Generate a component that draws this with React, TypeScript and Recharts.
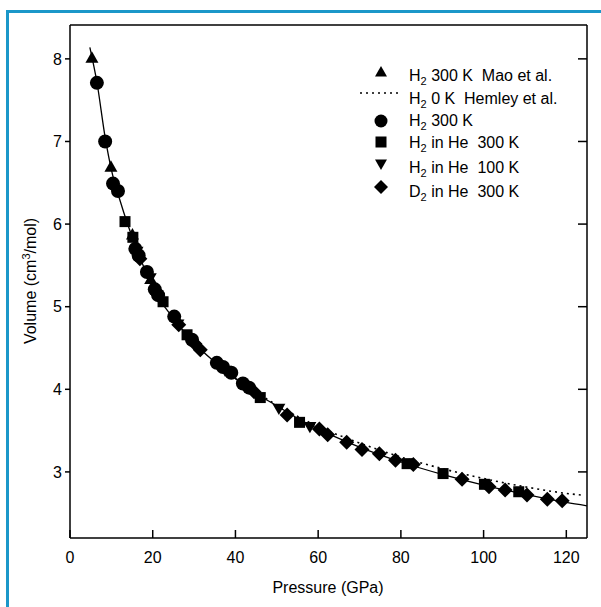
import { ComposedChart, Label, Legend, Line, Scatter, XAxis, YAxis } from "recharts";

const FONT = "'Liberation Sans', Arial, Helvetica, sans-serif";

const xTicks = [0, 20, 40, 60, 80, 100, 120];
const yTicks = [3, 4, 5, 6, 7, 8];

// [pressure GPa, volume cm3/mol]
const fitCurve = [
  [4.8, 8.14], [6.5, 7.72], [8.5, 7.05], [10, 6.66], [12, 6.3], [14, 5.99],
  [16, 5.72], [18, 5.46], [20, 5.23], [25, 4.86], [30, 4.56], [35, 4.33],
  [40, 4.13], [45, 3.95], [50, 3.8], [55, 3.65], [60, 3.52], [70, 3.3],
  [80, 3.12], [90, 2.97], [100, 2.84], [110, 2.73], [120, 2.63], [125, 2.59],
];
const hemley0K = [
  [40, 4.13], [50, 3.81], [60, 3.55], [70, 3.35], [80, 3.18], [90, 3.04],
  [100, 2.92], [110, 2.82], [120, 2.74], [123.5, 2.72],
];
const maoH2 = [[5.3, 8.0], [9.9, 6.68], [15.1, 5.86], [19.5, 5.32]];
const h2Room = [
  [6.5, 7.71], [8.5, 7.0], [10.4, 6.49], [11.6, 6.4], [15.8, 5.7], [16.6, 5.62],
  [18.6, 5.42], [20.5, 5.21], [21.3, 5.14], [25.2, 4.88], [29.5, 4.6], [35.5, 4.32],
  [37, 4.27], [39, 4.2], [41.8, 4.07], [43.3, 4.02],
];
const h2He300 = [
  [13.3, 6.03], [15.2, 5.84], [22.5, 5.06], [28.3, 4.66], [46, 3.9], [55.5, 3.6],
  [81.5, 3.1], [90.2, 2.98], [100.2, 2.85], [108.5, 2.76],
];
const h2He100 = [[16.2, 5.68], [19.4, 5.36], [26.1, 4.8], [37.5, 4.24], [50.5, 3.78], [58, 3.56]];
const d2He300 = [
  [16.9, 5.58], [26.3, 4.78], [30.2, 4.55], [31.5, 4.48], [42.5, 4.05], [44.5, 3.97],
  [52.5, 3.69], [60.3, 3.52], [62.3, 3.45], [66.9, 3.36], [70.6, 3.27], [74.8, 3.22],
  [78.7, 3.14], [83, 3.09], [94.8, 2.91], [101.3, 2.82], [105.2, 2.78], [110.5, 2.72],
  [115.4, 2.67], [119, 2.65],
];

const legendLabels = [
  ["H", "2", " 300 K  Mao et al."],
  ["H", "2", " 0 K  Hemley et al."],
  ["H", "2", " 300 K"],
  ["H", "2", " in He  300 K"],
  ["H", "2", " in He  100 K"],
  ["D", "2", " in He  300 K"],
];

const rows = (d: number[][]) => d.map(([p, v]) => ({ p, v }));

type Pt = { cx?: number; cy?: number };

const triUp = (cx: number, cy: number, s: number) => (
  <polygon points={`${cx},${cy - 0.58 * s} ${cx + s / 2},${cy + 0.29 * s} ${cx - s / 2},${cy + 0.29 * s}`} fill="#000" />
);
const triDown = (cx: number, cy: number, s: number) => (
  <polygon points={`${cx},${cy + 0.58 * s} ${cx + s / 2},${cy - 0.29 * s} ${cx - s / 2},${cy - 0.29 * s}`} fill="#000" />
);
const square = (cx: number, cy: number, s: number) => (
  <rect x={cx - s / 2} y={cy - s / 2} width={s} height={s} fill="#000" />
);
const diamond = (cx: number, cy: number, s: number) => (
  <polygon points={`${cx},${cy - s / 2} ${cx + s / 2},${cy} ${cx},${cy + s / 2} ${cx - s / 2},${cy}`} fill="#000" />
);
const circle = (cx: number, cy: number, s: number) => <circle cx={cx} cy={cy} r={s / 2} fill="#000" />;

function BottomTick({ x, y, payload }: any) {
  return (
    <g>
      <line x1={x} x2={x} y1={y - 14} y2={y - 22} stroke="#000" strokeWidth={1.5} />
      <text x={x} y={y} dy="0.71em" textAnchor="middle" fontSize={16} fontFamily={FONT} fill="#000">
        {payload.value}
      </text>
    </g>
  );
}

function LegendBox() {
  const mx = 31;
  const tx = 59;
  const baselines = [26, 48.5, 71, 93, 118, 142];
  return (
    <svg width={240} height={160} style={{ overflow: "visible" }}>
      {triUp(mx, 18, 12)}
      <line x1={10} x2={50} y1={38} y2={38} stroke="#000" strokeWidth={1.6} strokeDasharray="2 4" />
      {circle(mx, 66, 13)}
      {square(mx, 87, 11)}
      {triDown(mx, 108, 12)}
      {diamond(mx, 132, 14)}
      {legendLabels.map(([a, sub, rest], i) => (
        <text key={i} x={tx} y={baselines[i]} fontSize={16} fontFamily={FONT} fill="#000" style={{ whiteSpace: "pre" }}>
          <tspan>{a}</tspan>
          <tspan dy={4} fontSize={11}>{sub}</tspan>
          <tspan dy={-4}>{rest}</tspan>
        </text>
      ))}
    </svg>
  );
}

export default function App() {
  const tick = { fill: "#000", fontSize: 16, fontFamily: FONT };
  return (
    <div style={{ position: "absolute", left: 0, top: 0, width: 601, height: 607, overflow: "hidden", background: "#fff" }}>
      <div style={{ position: "absolute", left: 6, top: 10, width: 700, height: 700, border: "3px solid #1b97c9" }} />
      <div style={{ position: "absolute", left: 0, top: 0 }}>
        <ComposedChart width={601} height={607} margin={{ top: 25, right: 14, left: 0, bottom: 0 }}>
          <XAxis
            type="number"
            dataKey="p"
            domain={[0, 125]}
            ticks={xTicks}
            allowDataOverflow
            height={69}
            stroke="#000"
            strokeWidth={1.5}
            tickLine={false}
            tickSize={0}
            tickMargin={14}
            tick={<BottomTick />}
          >
            <Label
              content={() => (
                <text x={328} y={593} textAnchor="middle" fontSize={16} fontFamily={FONT} fill="#000">
                  Pressure (GPa)
                </text>
              )}
            />
          </XAxis>
          <XAxis
            xAxisId="top"
            orientation="top"
            type="number"
            domain={[0, 125]}
            ticks={xTicks}
            allowDataOverflow
            mirror
            height={1}
            stroke="#000"
            strokeWidth={1.5}
            tickSize={8}
            tickFormatter={() => ""}
          />
          <YAxis
            type="number"
            dataKey="v"
            domain={[2.2, 8.41]}
            ticks={yTicks}
            allowDataOverflow
            width={70}
            stroke="#000"
            strokeWidth={1.5}
            tickSize={5}
            tickMargin={3}
            tick={tick}
          >
            <Label
              content={() => (
                <text x={36} y={281} transform="rotate(-90 36 281)" textAnchor="middle" fontSize={16} fontFamily={FONT} fill="#000">
                  <tspan>Volume (cm</tspan>
                  <tspan dy={-6} fontSize={11}>3</tspan>
                  <tspan dy={6}>/mol)</tspan>
                </text>
              )}
            />
          </YAxis>
          <YAxis
            yAxisId="right"
            orientation="right"
            type="number"
            domain={[2.2, 8.41]}
            ticks={yTicks}
            allowDataOverflow
            mirror
            width={1}
            stroke="#000"
            strokeWidth={1.5}
            tickSize={9}
            tickFormatter={() => ""}
          />
          <Line data={rows(hemley0K)} dataKey="v" type="monotone" stroke="#000" strokeWidth={1.6} strokeDasharray="2 4" dot={false} isAnimationActive={false} />
          <Line data={rows(fitCurve)} dataKey="v" type="monotone" stroke="#000" strokeWidth={1.3} dot={false} isAnimationActive={false} />
          <Scatter data={rows(maoH2)} dataKey="v" isAnimationActive={false} shape={(p: Pt) => triUp(p.cx!, p.cy!, 13)} />
          <Scatter data={rows(h2Room)} dataKey="v" isAnimationActive={false} shape={(p: Pt) => circle(p.cx!, p.cy!, 14)} />
          <Scatter data={rows(h2He300)} dataKey="v" isAnimationActive={false} shape={(p: Pt) => square(p.cx!, p.cy!, 11)} />
          <Scatter data={rows(h2He100)} dataKey="v" isAnimationActive={false} shape={(p: Pt) => triDown(p.cx!, p.cy!, 13)} />
          <Scatter data={rows(d2He300)} dataKey="v" isAnimationActive={false} shape={(p: Pt) => diamond(p.cx!, p.cy!, 15)} />
          <Legend
            layout="vertical"
            align="center"
            verticalAlign="middle"
            wrapperStyle={{ left: 350, top: 55, width: 240, height: 160 }}
            content={() => <LegendBox />}
          />
        </ComposedChart>
      </div>
    </div>
  );
}
